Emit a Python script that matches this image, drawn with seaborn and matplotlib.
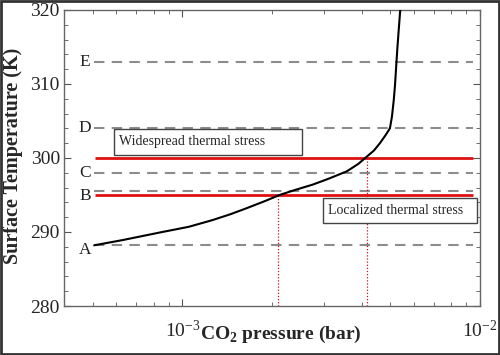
import numpy as np
import matplotlib
matplotlib.use('Agg')
import matplotlib.pyplot as plt
import seaborn as sns
from matplotlib.patches import Rectangle
from matplotlib.ticker import MultipleLocator, LogLocator, LogFormatterSciNotation, NullFormatter

# Surface temperature vs CO2 pressure curve
pressure = [5.05e-4, 6.28e-4, 8.56e-4, 1.05e-3, 1.26e-3, 1.45e-3, 1.64e-3, 1.9e-3,
            2.12e-3, 2.4e-3, 2.74e-3, 3.1e-3, 3.57e-3, 3.9e-3, 4.17e-3, 4.4e-3,
            4.61e-3, 4.8e-3, 4.98e-3, 5.06e-3, 5.13e-3, 5.18e-3, 5.24e-3, 5.28e-3,
            5.32e-3, 5.39e-3, 5.42e-3]
temperature = [288.2, 288.9, 290.0, 290.7, 291.6, 292.4, 293.2, 294.2,
               295.0, 295.7, 296.4, 297.2, 298.2, 299.2, 300.2, 301.0,
               302.0, 303.0, 304.0, 305.6, 307.8, 309.8, 313.0, 315.0,
               316.8, 319.8, 320.5]

# Reference levels (grey dashed)
ref_labels = ['A', 'B', 'C', 'D', 'E']
ref_levels = [288.2, 295.5, 298.0, 304.0, 313.0]

# Thermal stress thresholds (red)
stress_levels = [295.0, 300.0]
stress_names = ['Localized thermal stress', 'Widespread thermal stress']
crossing_pressure = [2.1e-3, 4.17e-3]

line_start, line_end = 5.05e-4, 9.5e-3

sns.set_style('ticks')
plt.rcParams['font.family'] = ['Liberation Serif', 'DejaVu Serif']
plt.rcParams['mathtext.fontset'] = 'custom'
plt.rcParams['mathtext.rm'] = 'Liberation Serif'
plt.rcParams['mathtext.bf'] = 'Liberation Serif:bold'

fig = plt.figure(figsize=(5, 3.55), dpi=100)
ax = fig.add_axes([0.128, 0.138, 0.832, 0.834])

# grey dashed reference lines with letters
ax.hlines(ref_levels, line_start, line_end, colors='#8c8c8c', linestyles=(0, (5, 3.5)), lw=1.5, zorder=1)
for lab, lev in zip(ref_labels, ref_levels):
    dy = -0.6 if lab in ('A', 'B') else 0
    ax.text(4.7e-4, lev + dy, lab, ha='center', va='center', fontsize=12.5, color='#222222')

# red dotted verticals down to the axis
ax.vlines(crossing_pressure, 280, stress_levels, colors='#d01010', linestyles=(0, (1, 1.5)), lw=0.9, zorder=2)

# red threshold lines
ax.hlines(stress_levels, 5.1e-4, line_end, colors='#e01010', lw=2.0, zorder=3)

# curve
sns.lineplot(x=pressure, y=temperature, sort=False, color='black', lw=1.5, ax=ax, zorder=4)
ax.lines[-1].set_solid_joinstyle('round')

# annotation boxes
boxes = [(0.623, 0.280, 0.370, 0.085), (0.120, 0.510, 0.452, 0.088)]
for name, (bx, by, bw, bh) in zip(stress_names, boxes):
    ax.add_patch(Rectangle((bx, by), bw, bh, transform=ax.transAxes, facecolor='white',
                           edgecolor='#444444', lw=1.0, zorder=5))
    ax.text(bx + 0.012, by + bh / 2, name, transform=ax.transAxes, ha='left', va='center',
            fontsize=10, zorder=6)

ax.set_xscale('log')
ax.set_xlim(4e-4, 1e-2)
ax.set_ylim(280, 320)
ax.yaxis.set_major_locator(MultipleLocator(10))
ax.yaxis.set_minor_locator(MultipleLocator(2))
ax.xaxis.set_major_locator(LogLocator(base=10))
ax.xaxis.set_minor_locator(LogLocator(base=10, subs=np.arange(2, 10)))
ax.xaxis.set_major_formatter(LogFormatterSciNotation())
ax.xaxis.set_minor_formatter(NullFormatter())

ax.tick_params(which='both', direction='in', top=True, right=True, color='#555555')
ax.tick_params(which='major', length=5, width=0.8)
ax.tick_params(which='minor', length=3, width=0.6)
ax.tick_params(axis='x', which='major', pad=10, labelsize=14)
ax.tick_params(axis='y', which='major', pad=3, labelsize=14)
for s in ax.spines.values():
    s.set_color('#666666')
    s.set_linewidth(1.0)

ax.set_xlabel(r'CO$_\mathbf{2}$ pressure (bar)', fontsize=14, fontweight='bold')
ax.set_ylabel('Surface Temperature (K)', fontsize=14.5, fontweight='bold')
ax.xaxis.set_label_coords(0.52, -0.06)
ax.yaxis.set_label_coords(-0.099, 0.507)

# outer frame
fig.patches.append(Rectangle((0.002, 0.003), 0.996, 0.994, transform=fig.transFigure,
                             fill=False, edgecolor='#333333', lw=2.0))

fig.savefig('out.png', dpi=100)
